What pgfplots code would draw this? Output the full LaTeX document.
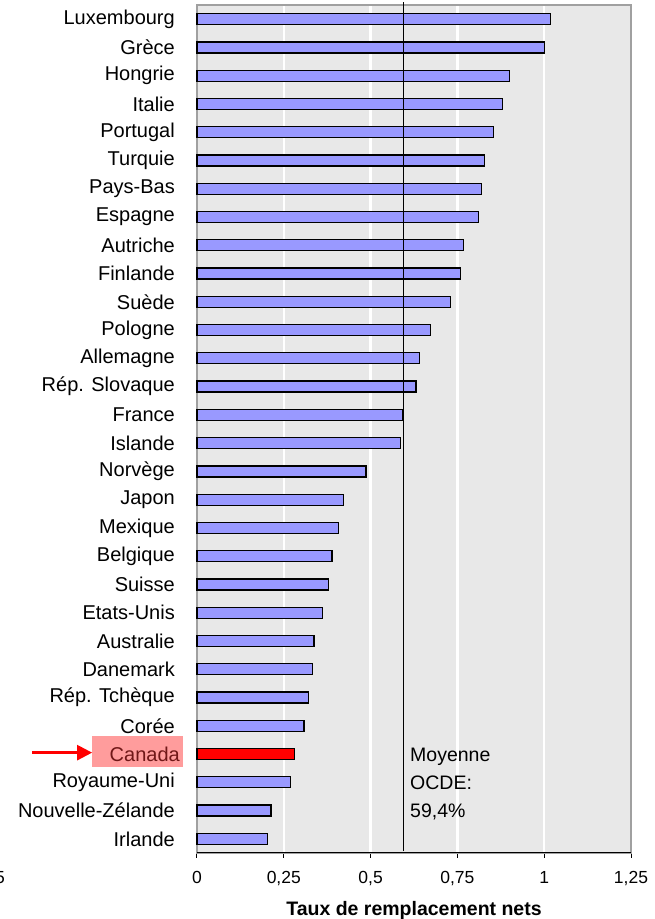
\documentclass[border=0pt]{standalone}
\usepackage{fontspec}
\setmainfont{Liberation Sans}
\usepackage{pgfplots}
\pgfplotsset{compat=1.18}
\usepackage{pgfplotstable}
\usetikzlibrary{arrows.meta}

\definecolor{barblue}{HTML}{9999FF}
\definecolor{panelgray}{HTML}{E8E8E8}
\definecolor{framegray}{HTML}{A0A0A0}
\definecolor{canadabox}{HTML}{FF9C9C}
\definecolor{canadatext}{HTML}{701818}

% Net replacement rates, bottom row (Irlande) up to the top row (Luxembourg);
% Canada (row 3) is drawn on its own in red
\pgfplotstableread{
pos rate
0  0.203
1  0.213
2  0.270
4  0.308
5  0.322
6  0.332
7  0.337
8  0.361
9  0.379
10 0.389
11 0.407
12 0.421
13 0.487
14 0.586
15 0.593
16 0.631
17 0.640
18 0.673
19 0.730
20 0.758
21 0.768
22 0.810
23 0.819
24 0.829
25 0.853
26 0.880
27 0.900
28 1.000
29 1.019
}\rates

\begin{document}
\begin{tikzpicture}
\path[use as bounding box] (0pt,0pt) rectangle (654pt,919pt);
\begin{axis}[
  at={(197pt,66pt)}, anchor=south west,
  scale only axis, width=434pt, height=848pt,
  xmin=0, xmax=1.25, ymin=-0.5, ymax=29.5,
  clip=false,
  xbar, bar shift=0pt, bar width=11pt,
  axis background/.style={fill=panelgray},
  axis line style={draw=framegray, line width=1.3pt},
  xtick={0,0.25,0.5,0.75,1,1.25},
  xticklabels={0,{0,25},{0,5},{0,75},1,{1,25}},
  minor xtick={0.25,0.5,0.75,1},
  xminorgrids, minor grid style={white, line width=2.5pt},
  minor tick length=0pt,
  tick align=outside, major tick length=5pt,
  xtick pos=bottom,
  xtick style={black, line width=1pt},
  ytick={0,...,29},
  ytick style={draw=none},
  yticklabels={Irlande, Nouvelle-Zélande, Royaume-Uni, {}, Corée,
    Rép. Tchèque, Danemark, Australie, Etats-Unis, Suisse, Belgique,
    Mexique, Japon, Norvège, Islande, France, Rép. Slovaque, Allemagne,
    Pologne, Suède, Finlande, Autriche, Espagne, Pays-Bas, Turquie,
    Portugal, Italie, Hongrie, Grèce, Luxembourg},
  yticklabel style={font=\fontsize{20}{24}\selectfont, anchor=east,
    inner sep=0pt, xshift=-17pt},
  xticklabel style={font=\fontsize{17.5}{21}\selectfont, anchor=north,
    inner sep=0pt, yshift=-13pt},
]
\addplot[fill=barblue, draw=black, line width=1.3pt]
  table[x=rate, y=pos] {\rates};
\addplot[fill=red, draw=black, line width=1.3pt]
  coordinates {(0.280,3)};

% OECD average
\draw[black, line width=1.3pt] (axis cs:0.594,-0.43) -- (axis cs:0.594,29.61);
\node[anchor=west, inner sep=0pt, align=left,
      font=\fontsize{19.5}{28}\selectfont]
  at (axis cs:0.6135,1.94) {Moyenne\\OCDE:\\59,4\%};

% bottom axis line
\draw[black, line width=1pt] (axis cs:0,-0.5) -- (axis cs:1.25,-0.5);

% highlighted country
\fill[canadabox] (axis cs:-0.3024,2.542) rectangle (axis cs:-0.0403,3.639);
\node[anchor=east, inner sep=0pt, font=\fontsize{20}{24}\selectfont,
      text=canadatext] at ([xshift=-17pt]axis cs:0,3) {Canada};
\draw[red, line width=2.5pt, -{Triangle[length=15pt, width=15pt]}]
  (axis cs:-0.475,3.05) -- (axis cs:-0.302,3.05);

% tick label cut at the left edge
\node[anchor=north east, inner sep=0pt, font=\fontsize{17.5}{21}\selectfont]
  at ([yshift=-18pt]axis cs:-0.553,-0.5) {0,25};

% axis title
\node[anchor=base, inner sep=0pt, font=\bfseries\fontsize{19.5}{24}\selectfont]
  at ([yshift=-62pt]axis cs:0.625,-0.5) {Taux de remplacement nets};
\end{axis}
\end{tikzpicture}
\end{document}
